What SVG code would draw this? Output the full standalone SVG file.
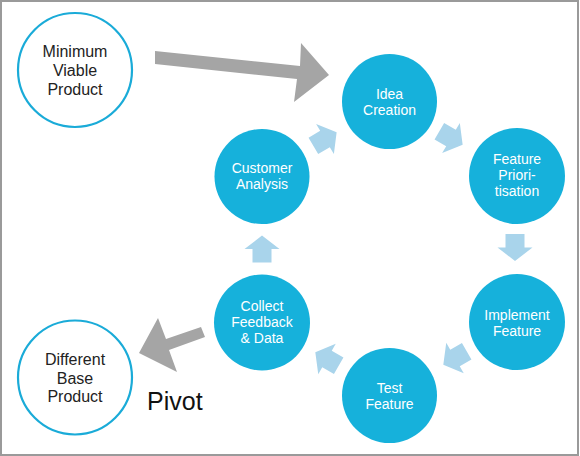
<svg xmlns="http://www.w3.org/2000/svg" width="580" height="456" viewBox="0 0 580 456">
<defs>
<style>
.frame{fill:#fff;stroke:#9a9a9a;stroke-width:2}
.node{fill:#16b1db}
.outline{fill:#fff;stroke:#1aabd8;stroke-width:2.2}
.lbl{font-family:"Liberation Sans",Arial,sans-serif;font-size:14px;fill:#fff;text-anchor:middle}
.dlbl{font-family:"Liberation Sans",Arial,sans-serif;font-size:16px;fill:#222;text-anchor:middle}
.big{fill:#a5a5a5}
.small{fill:#a9d4eb}
</style>
<path id="sa" d="M-13.5,-9.5 H0 V-17.5 L13.5,0 L0,17.5 V9.5 H-13.5 Z"/>
</defs>
<rect class="frame" x="1" y="1" width="577" height="454"/>
<g id="connectors">
<polygon class="big" points="155,51 300,66 301,43 329,75 294,102 297,79 155,64"/>
<polygon class="big" points="201,327 166,339 158,318 139,353 177,372 169,350 205,337"/>
<use href="#sa" class="small" transform="translate(325,139) rotate(-30.5)"/>
<use href="#sa" class="small" transform="translate(451,138) rotate(30.3)"/>
<use href="#sa" class="small" transform="translate(515,247.5) rotate(90)"/>
<use href="#sa" class="small" transform="translate(455,358) rotate(150)"/>
<use href="#sa" class="small" transform="translate(327,359) rotate(210)"/>
<use href="#sa" class="small" transform="translate(262,249) rotate(-90)"/>
</g>
<g id="mvp">
<circle class="outline" cx="75" cy="70" r="57"/>
<text class="dlbl" x="75" y="56.5">Minimum</text>
<text class="dlbl" x="75" y="76">Viable</text>
<text class="dlbl" x="75" y="95">Product</text>
</g>
<g id="idea">
<circle class="node" cx="389.5" cy="101.5" r="47.5"/>
<text class="lbl" x="389.5" y="98.5">Idea</text>
<text class="lbl" x="389.5" y="115">Creation</text>
</g>
<g id="prioritisation">
<circle class="node" cx="517" cy="176" r="48"/>
<text class="lbl" x="517" y="163.5">Feature</text>
<text class="lbl" x="517" y="179.5">Priori-</text>
<text class="lbl" x="517" y="195.5">tisation</text>
</g>
<g id="implement">
<circle class="node" cx="517" cy="322" r="48"/>
<text class="lbl" x="517" y="320">Implement</text>
<text class="lbl" x="517" y="336">Feature</text>
</g>
<g id="test">
<circle class="node" cx="389.5" cy="395.5" r="47.5"/>
<text class="lbl" x="389.5" y="393">Test</text>
<text class="lbl" x="389.5" y="409">Feature</text>
</g>
<g id="collect">
<circle class="node" cx="262" cy="322.5" r="48"/>
<text class="lbl" x="262" y="310.5">Collect</text>
<text class="lbl" x="262" y="326.5">Feedback</text>
<text class="lbl" x="262" y="342.5">&amp; Data</text>
</g>
<g id="customer">
<circle class="node" cx="262" cy="176.5" r="47.5"/>
<text class="lbl" x="262" y="172.5">Customer</text>
<text class="lbl" x="262" y="188.5">Analysis</text>
</g>
<g id="different">
<circle class="outline" cx="75" cy="377.5" r="57"/>
<text class="dlbl" x="75" y="364.5">Different</text>
<text class="dlbl" x="75" y="383.5">Base</text>
<text class="dlbl" x="75" y="402">Product</text>
</g>
<text id="pivot" x="147" y="410" font-family="'Liberation Sans',Arial,sans-serif" font-size="25" fill="#111">Pivot</text>
</svg>
